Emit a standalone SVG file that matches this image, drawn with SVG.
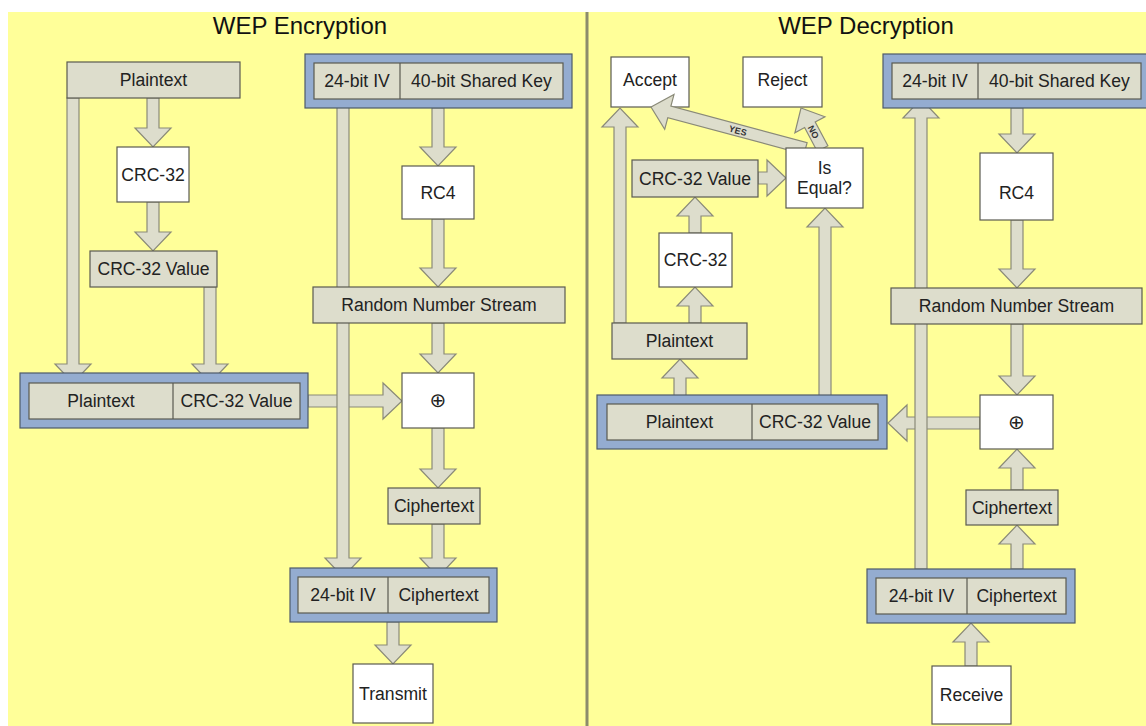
<svg xmlns="http://www.w3.org/2000/svg" width="1146" height="726" viewBox="0 0 1146 726">
<defs>
<style>
.bg{fill:#FFFF99}
.div{stroke:#8C8C6C;stroke-width:3}
.box{fill:#DDDDCC;stroke:#5A5A50;stroke-width:1.2}
.wbox{fill:#FFFFFF;stroke:#5A5A50;stroke-width:1.2}
.frame{fill:#94ACD0;stroke:#4E5A6A;stroke-width:1.2}
.arr{fill:#DDDDCC;stroke:#8A8A78;stroke-width:1.2;stroke-linejoin:miter}
.cell{stroke:#5A5A50;stroke-width:1.2}
text{font-family:"Liberation Sans",Arial,sans-serif;font-size:17.6px;fill:#222;text-anchor:middle}
.title{font-size:24px;fill:#111}
.xor{font-family:"DejaVu Sans",sans-serif;font-size:20px}
.lbl{font-size:9px;font-weight:bold;fill:#333}
</style>
</defs>
<rect x="0" y="0" width="1146" height="726" fill="#FFFFFF"/>
<rect class="bg" x="8" y="12" width="1138" height="714"/>
<line class="div" x1="587" y1="12" x2="587" y2="726"/>
<text class="title" x="300" y="34">WEP Encryption</text>
<text class="title" x="866" y="34">WEP Decryption</text>

<g id="d-accept"><rect class="wbox" x="611" y="57" width="78" height="50"/><text x="650" y="86">Accept</text></g>
<g id="d-reject"><rect class="wbox" x="743" y="57" width="79" height="50"/><text x="782.5" y="86">Reject</text></g>

<g id="connectors">
<!-- encryption -->
<polygon class="arr" points="67,98 79,98 79,364 91,364 73,383 55,364 67,364"/>
<polygon class="arr" points="147,98 159,98 159,128 171,128 153,147 135,128 147,128"/>
<polygon class="arr" points="147,202 159,202 159,232 171,232 153,251 135,232 147,232"/>
<polygon class="arr" points="204,287 216,287 216,364 228,364 210,383 192,364 204,364"/>
<polygon class="arr" points="308,395 308,407 383,407 383,419 402,401 383,383 383,395"/>
<polygon class="arr" points="337,99 349,99 349,558 361,558 343,577 325,558 337,558"/>
<polygon class="arr" points="432,108 444,108 444,147 456,147 438,166 420,147 432,147"/>
<polygon class="arr" points="432,219 444,219 444,268 456,268 438,287 420,268 432,268"/>
<polygon class="arr" points="432,323 444,323 444,354 456,354 438,373 420,354 432,354"/>
<polygon class="arr" points="432,428 444,428 444,469 456,469 438,488 420,469 432,469"/>
<polygon class="arr" points="432,524 444,524 444,558 456,558 438,577 420,558 432,558"/>
<polygon class="arr" points="387,622 399,622 399,645 411,645 393,664 375,645 387,645"/>
<!-- decryption -->
<polygon class="arr" points="965,666 977,666 977,642 989,642 971,623 953,642 965,642"/>
<polygon class="arr" points="980,417 980,429 907,429 907,441 888,423 907,405 907,417"/>
<polygon class="arr" points="915,569 927,569 927,118 939,118 921,99 903,118 915,118"/>
<polygon class="arr" points="1011,569 1023,569 1023,544 1035,544 1017,525 999,544 1011,544"/>
<polygon class="arr" points="1011,490 1023,490 1023,468 1035,468 1017,449 999,468 1011,468"/>
<polygon class="arr" points="1011,108 1023,108 1023,134 1035,134 1017,153 999,134 1011,134"/>
<polygon class="arr" points="1011,220 1023,220 1023,269 1035,269 1017,288 999,269 1011,269"/>
<polygon class="arr" points="1011,324 1023,324 1023,376 1035,376 1017,395 999,376 1011,376"/>
<polygon class="arr" points="674,396 686,396 686,378 698,378 680,359 662,378 674,378"/>
<polygon class="arr" points="819,396 831,396 831,227 843,227 825,208 807,227 819,227"/>
<polygon class="arr" points="689,323 701,323 701,306 713,306 695,287 677,306 689,306"/>
<polygon class="arr" points="689,233 701,233 701,216 713,216 695,197 677,216 689,216"/>
<polygon class="arr" points="758,172 758,184 767,184 767,196 786,178 767,160 767,172"/>
<polygon class="arr" points="614,323 626,323 626,127 638,127 620,108 602,127 614,127"/>
<g transform="translate(651,107) rotate(15)">
<polygon class="arr" points="0,0 19,-18 19,-6 160,-6 160,6 19,6 19,18"/>
<text class="lbl" x="90" y="3.5">YES</text>
</g>
<g transform="translate(801,108) rotate(62)">
<polygon class="arr" points="0,0 19,-17 19,-6 46,-6 46,6 19,6 19,17"/>
<text class="lbl" x="27" y="3.5">NO</text>
</g>
</g>

<!-- encryption nodes -->
<g id="e-plaintext"><rect class="box" x="67" y="62" width="173" height="36"/><text x="153.5" y="86">Plaintext</text></g>
<g id="e-ivkey"><rect class="frame" x="305" y="54" width="267" height="54"/><rect class="box" x="314" y="63" width="249" height="36"/><line class="cell" x1="400" y1="63" x2="400" y2="99"/><text x="357" y="87">24-bit IV</text><text x="481.5" y="87">40-bit Shared Key</text></g>
<g id="e-crc32"><rect class="wbox" x="117" y="147" width="72" height="55"/><text x="153" y="181">CRC-32</text></g>
<g id="e-crcvalue"><rect class="box" x="90" y="251" width="127" height="36"/><text x="153.5" y="275">CRC-32 Value</text></g>
<g id="e-rc4"><rect class="wbox" x="402" y="166" width="72" height="53"/><text x="438" y="199">RC4</text></g>
<g id="e-rns"><rect class="box" x="313" y="287" width="252" height="36"/><text x="439" y="311">Random Number Stream</text></g>
<g id="e-plaincrc"><rect class="frame" x="20" y="373" width="288" height="55"/><rect class="box" x="29" y="383" width="271" height="36"/><line class="cell" x1="173" y1="383" x2="173" y2="419"/><text x="101" y="407">Plaintext</text><text x="236.5" y="407">CRC-32 Value</text></g>
<g id="e-xor"><rect class="wbox" x="402" y="373" width="72" height="55"/><text class="xor" x="438" y="407">⊕</text></g>
<g id="e-cipher"><rect class="box" x="388" y="488" width="92" height="36"/><text x="434" y="512">Ciphertext</text></g>
<g id="e-ivcipher"><rect class="frame" x="290" y="568" width="207" height="54"/><rect class="box" x="298" y="577" width="191" height="36"/><line class="cell" x1="388" y1="577" x2="388" y2="613"/><text x="343" y="601">24-bit IV</text><text x="438.5" y="601">Ciphertext</text></g>
<g id="e-transmit"><rect class="wbox" x="353" y="664" width="80" height="59"/><text x="393" y="700">Transmit</text></g>

<!-- decryption nodes -->
<g id="d-ivkey"><rect class="frame" x="883" y="54" width="267" height="54"/><rect class="box" x="892" y="63" width="249" height="36"/><line class="cell" x1="978" y1="63" x2="978" y2="99"/><text x="935" y="87">24-bit IV</text><text x="1059.5" y="87">40-bit Shared Key</text></g>
<g id="d-crcvalue"><rect class="box" x="632" y="160" width="126" height="37"/><text x="695" y="185">CRC-32 Value</text></g>
<g id="d-isequal"><rect class="wbox" x="786" y="148" width="77" height="60"/><text x="824.5" y="174">Is</text><text x="824.5" y="194">Equal?</text></g>
<g id="d-crc32"><rect class="wbox" x="659" y="233" width="73" height="54"/><text x="695.5" y="266">CRC-32</text></g>
<g id="d-rc4"><rect class="wbox" x="980" y="153" width="73" height="67"/><text x="1016.5" y="199">RC4</text></g>
<g id="d-rns"><rect class="box" x="891" y="288" width="251" height="36"/><text x="1016.5" y="312">Random Number Stream</text></g>
<g id="d-plaintext"><rect class="box" x="612" y="323" width="135" height="36"/><text x="679.5" y="347">Plaintext</text></g>
<g id="d-plaincrc"><rect class="frame" x="597" y="395" width="290" height="54"/><rect class="box" x="607" y="404" width="271" height="36"/><line class="cell" x1="752" y1="404" x2="752" y2="440"/><text x="679.5" y="428">Plaintext</text><text x="815" y="428">CRC-32 Value</text></g>
<g id="d-xor"><rect class="wbox" x="980" y="395" width="73" height="54"/><text class="xor" x="1016.5" y="429">⊕</text></g>
<g id="d-cipher"><rect class="box" x="966" y="490" width="92" height="35"/><text x="1012" y="514">Ciphertext</text></g>
<g id="d-ivcipher"><rect class="frame" x="867" y="569" width="208" height="54"/><rect class="box" x="876" y="578" width="190" height="36"/><line class="cell" x1="967" y1="578" x2="967" y2="614"/><text x="921.5" y="602">24-bit IV</text><text x="1016.5" y="602">Ciphertext</text></g>
<g id="d-receive"><rect class="wbox" x="932" y="666" width="79" height="58"/><text x="971.5" y="701">Receive</text></g>
</svg>
